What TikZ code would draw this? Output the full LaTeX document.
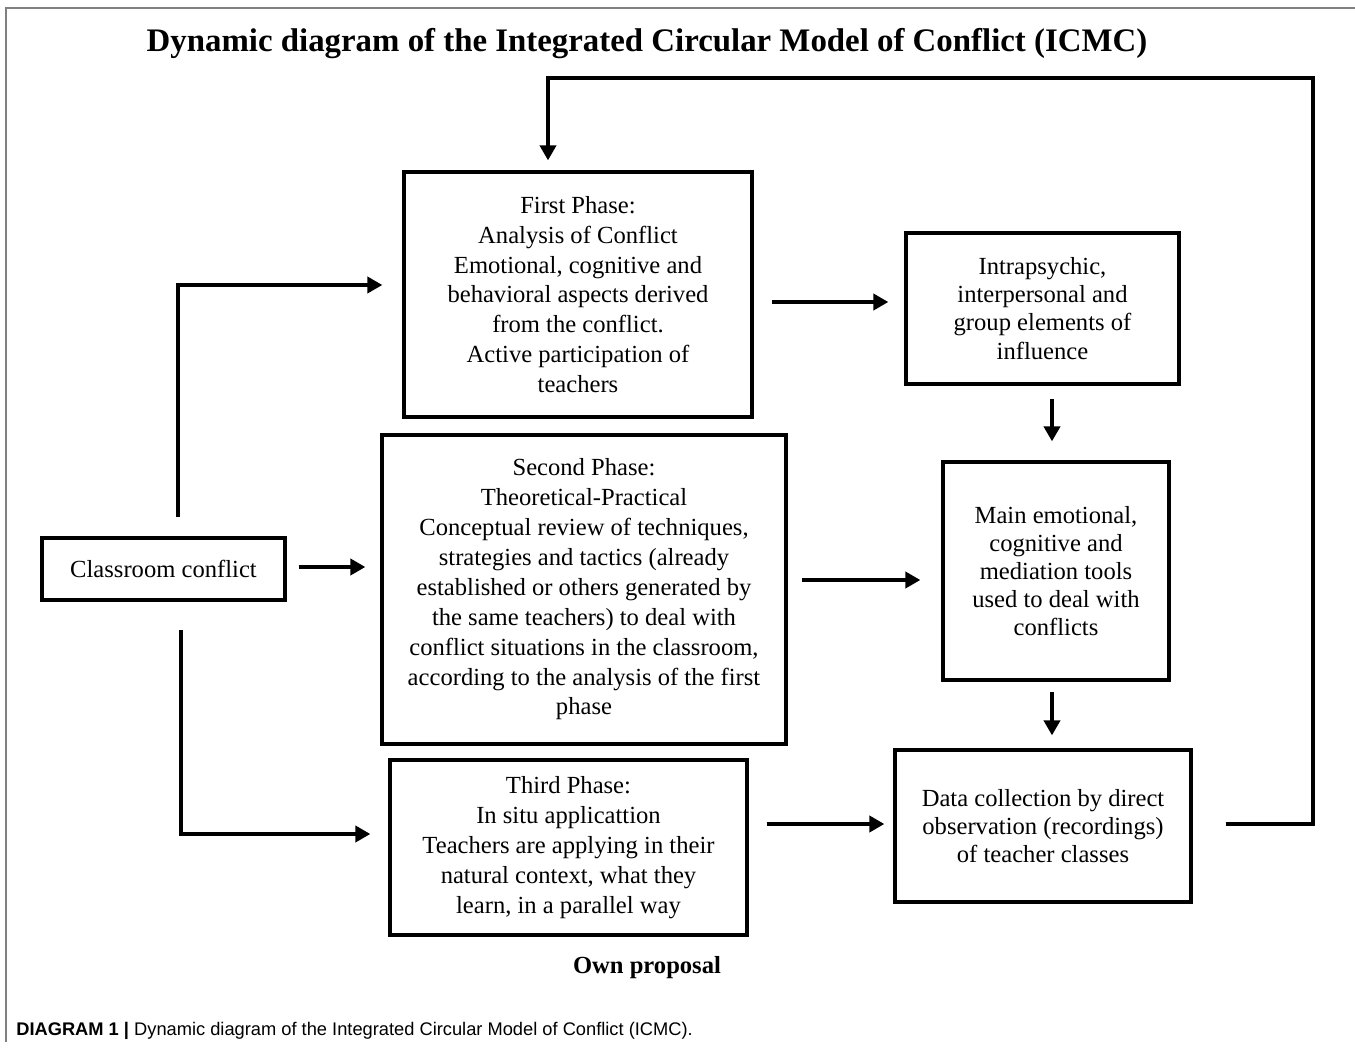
\documentclass[tikz,border=0pt]{standalone}
\usepackage{fontspec}
\setmainfont{Liberation Serif}
\newfontfamily\capfont{Liberation Sans}
\usetikzlibrary{arrows.meta}
\tikzset{box/.style = {draw, line width = 0.65mm, align = center, inner sep = 0pt,
  font = \fontsize{14}{17}\selectfont}}
\tikzset{edge/.style = {-{Triangle[length=3mm,width=3.2mm]}, line width = 0.75mm}}

\begin{document}
\begin{tikzpicture}[x=0.2mm, y=-0.2mm]
  \useasboundingbox (0,0) rectangle (1355,1049);
  \draw[gray, line width = 0.25mm] (6,1042) -- (6,8) -- (1355,8);

  \node (title) at (647,44) {\fontsize{18.7}{21}\selectfont\bfseries Dynamic diagram of the Integrated Circular Model of Conflict (ICMC)};

  \node[box, minimum width = 48.6mm, minimum height = 12.4mm] (cc) at (163.5,569) {Classroom conflict};
  \node[box, minimum width = 69.6mm, minimum height = 49mm] (p1) at (578,294.5)
    {First Phase:\\ Analysis of Conflict\\ Emotional, cognitive and\\ behavioral aspects derived\\ from the conflict.\\ Active participation of\\ teachers};
  \node[box, minimum width = 54.6mm, minimum height = 30.2mm, font = \fontsize{14}{16}\selectfont] (intra) at (1042.5,308.5)
    {Intrapsychic,\\ interpersonal and\\ group elements of\\ influence};
  \node[box, minimum width = 80.8mm, minimum height = 61.8mm] (p2) at (584,589.5)
    {Second Phase:\\ Theoretical-Practical\\ Conceptual review of techniques,\\ strategies and tactics (already\\ established or others generated by\\ the same teachers) to deal with\\ conflict situations in the classroom,\\ according to the analysis of the first\\ phase};
  \node[box, minimum width = 45.2mm, minimum height = 43.6mm, font = \fontsize{14}{16}\selectfont] (tools) at (1056,571)
    {Main emotional,\\ cognitive and\\ mediation tools\\ used to deal with\\ conflicts};
  \node[box, minimum width = 71.4mm, minimum height = 35mm] (p3) at (568.5,847.5)
    {Third Phase:\\ In situ applicattion\\ Teachers are applying in their\\ natural context, what they\\ learn, in a parallel way};
  \node[box, minimum width = 59.2mm, minimum height = 30.4mm, font = \fontsize{14}{16}\selectfont] (data) at (1043,826)
    {Data collection by direct\\ observation (recordings)\\ of teacher classes};

  \node (own) at (647,968) {\fontsize{14}{16}\selectfont\bfseries Own proposal};
  \node[anchor = west, inner sep = 0pt] (caption) at (16,1031)
    {\capfont\fontsize{10.4}{12}\selectfont{\bfseries DIAGRAM 1 |} Dynamic diagram of the Integrated Circular Model of Conflict (ICMC).};

  \coordinate (up) at (178,517);
  \coordinate (down) at (181,630);

  \draw[edge, shorten <= 2.4mm, shorten >= 3mm] ([yshift=0.4mm]cc.east) -- ([yshift=0.4mm]cc.east -| p2.west);
  \draw[edge, shorten >= 4mm] (up) |- ([yshift=1.9mm]p1.west);
  \draw[edge, shorten >= 3.6mm] (down) |- ([yshift=2.7mm]p3.west);
  \draw[edge, shorten <= 3.6mm, shorten >= 3.2mm] ([yshift=-1.5mm]p1.east) -- ([yshift=-1.5mm]p1.east -| intra.west);
  \draw[edge, shorten <= 2.6mm, shorten >= 3.8mm] ([xshift=-0.8mm]tools.north |- intra.south) -- ([xshift=-0.8mm]tools.north);
  \draw[edge, shorten <= 2.8mm, shorten >= 4.2mm] ([yshift=1.9mm]p2.east) -- ([yshift=1.9mm]p2.east -| tools.west);
  \draw[edge, shorten <= 2mm, shorten >= 2.6mm] ([xshift=-0.8mm]tools.south) -- ([xshift=-0.8mm]tools.south |- data.north);
  \draw[edge, shorten <= 3.6mm, shorten >= 1.8mm] ([yshift=4.7mm]p3.east) -- ([yshift=4.7mm]p3.east -| data.west);
  \draw[edge, shorten <= 6.6mm, shorten >= 2mm] ([yshift=0.4mm]data.east) -| (1313,78) -| ([xshift=-6mm]p1.north);
\end{tikzpicture}
\end{document}
